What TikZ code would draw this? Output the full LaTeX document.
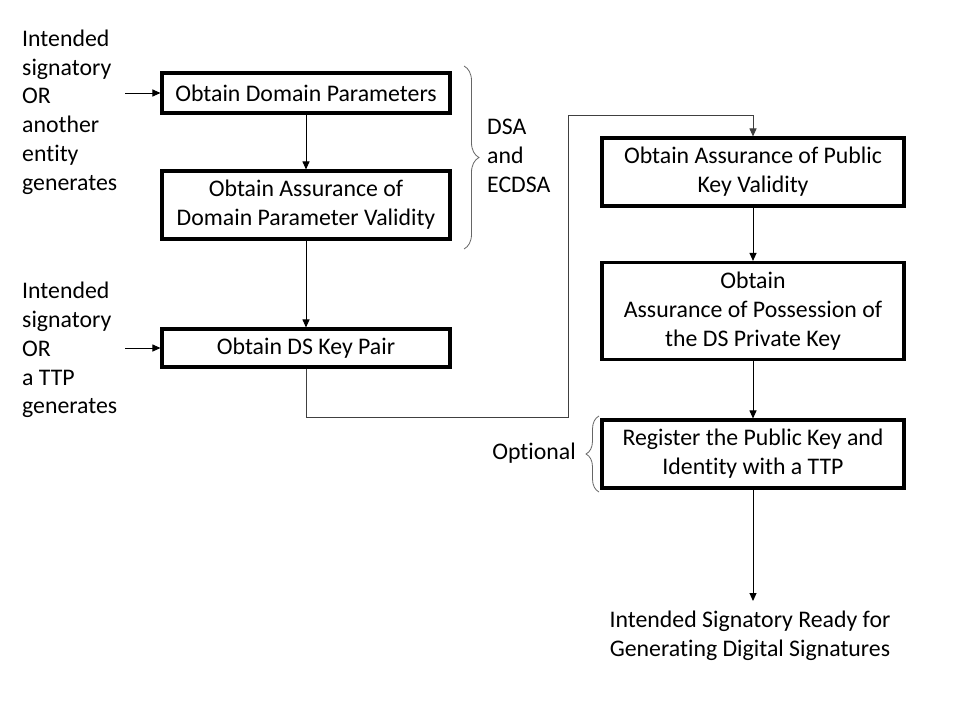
\documentclass[tikz,border=0pt]{standalone}
\usepackage{fontspec}
\setmainfont{Carlito}[Ligatures=NoCommon]
\usetikzlibrary{arrows.meta,decorations.pathreplacing}
\begin{document}
\begin{tikzpicture}[x=1pt,y=-1pt,
  every node/.style={font=\fontsize{23.8}{28.8}\selectfont, inner sep=0pt},
  stepbox/.style={draw, line width=3.1pt, align=center, inner sep=0pt},
  lbl/.style={align=left, anchor=west},
  conn/.style={line width=1pt, -{Triangle[length=8pt,width=7pt]}},
  graycon/.style={line width=1pt, draw=black!75, -{Triangle[length=8pt,width=7pt]}},
  bracestyle/.style={line width=0.8pt, draw=black!60, decorate}
]
\useasboundingbox (0,0) rectangle (960,720);
% left boxes
\node[stepbox, minimum width=288pt, minimum height=40pt] (b1) at (306,93) {Obtain Domain Parameters};
\node[stepbox, minimum width=288pt, minimum height=68pt] (b2) at (306,205) {Obtain Assurance of\\Domain Parameter Validity};
\node[stepbox, minimum width=288pt, minimum height=38pt] (b3) at (306,348) {Obtain DS Key Pair};
% right boxes
\node[stepbox, minimum width=302pt, minimum height=68pt] (b4) at (753,172) {Obtain Assurance of Public\\Key Validity};
\node[stepbox, minimum width=302pt, minimum height=97pt] (b5) at (753,311) {Obtain\\Assurance of Possession of\\the DS Private Key};
\node[stepbox, minimum width=302pt, minimum height=68pt] (b6) at (753,454) {Register the Public Key and\\Identity with a TTP};
% left labels
\node[lbl] (t1) at (22,112) {Intended\\signatory\\OR\\another\\entity\\generates};
\node[lbl] (t2) at (22,350) {Intended\\signatory\\OR\\a TTP\\generates};
\node[lbl] (t3) at (487,156) {DSA\\and\\ECDSA};
\node[anchor=east] (t4) at (576,453) {Optional};
\node[align=center] (t5) at (750,636) {Intended Signatory Ready for\\Generating Digital Signatures};
% coordinates
\coordinate (s1) at (125,93);
\coordinate (s2) at (125,348);
\coordinate (e1) at (753,601);
\coordinate (k1) at (306,417);
\coordinate (k2) at (568,417);
\coordinate (k3) at (568,115);
\coordinate (k4) at (753,115);
% connectors
\draw[conn] (s1) -- (b1.west);
\draw[conn] (s2) -- (b3.west);
\draw[conn] (b1.south) -- (b2.north);
\draw[conn] (b2.south) -- (b3.north);
\draw[conn] (b4.south) -- (b5.north);
\draw[conn] (b5.south) -- (b6.north);
\draw[conn] (b6.south) -- (e1);
\draw[graycon] (b3.south) -- (k1) -- (k2) -- (k3) -- (k4) -- (b4.north);
% braces
\coordinate (br1) at (464,66);
\coordinate (br2) at (464,249);
\draw[bracestyle, decoration={brace, amplitude=15pt}] (br1) -- (br2);
\coordinate (br3) at (599,492);
\coordinate (br4) at (599,416);
\draw[bracestyle, decoration={brace, amplitude=13pt}] (br3) -- (br4);
\end{tikzpicture}
\end{document}
